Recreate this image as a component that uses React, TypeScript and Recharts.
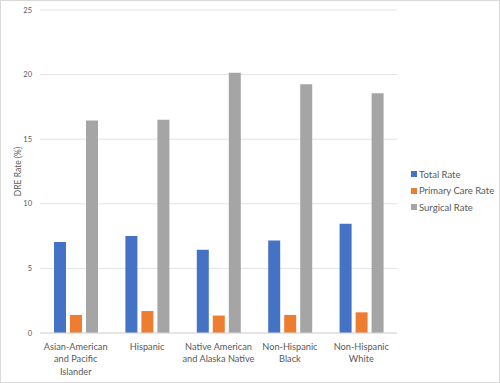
import { BarChart, Bar, XAxis, YAxis, CartesianGrid } from 'recharts';

// Racial/ethnic groups; "\n" marks where the axis label wraps.
const CATEGORIES = [
  'Asian-American\nand Pacific\nIslander',
  'Hispanic',
  'Native American\nand Alaska Native',
  'Non-Hispanic\nBlack',
  'Non-Hispanic\nWhite',
];
const TOTAL_RATE = [7.05, 7.5, 6.45, 7.15, 8.45];
const PRIMARY_CARE_RATE = [1.4, 1.7, 1.35, 1.4, 1.6];
const SURGICAL_RATE = [16.45, 16.5, 20.15, 19.25, 18.55];
const Y_TICKS = [0, 5, 10, 15, 20, 25];

const BLUE = '#4472C4';
const ORANGE = '#ED7D31';
const GRAY = '#A5A5A5';
const TEXT = '#595959';
const FONT = 'Lato, "Open Sans", sans-serif';

const SERIES = [
  { key: 'total', name: 'Total Rate', color: BLUE },
  { key: 'primary', name: 'Primary Care Rate', color: ORANGE },
  { key: 'surgical', name: 'Surgical Rate', color: GRAY },
];

const data = CATEGORIES.map((name, i) => ({
  name,
  total: TOTAL_RATE[i],
  primary: PRIMARY_CARE_RATE[i],
  surgical: SURGICAL_RATE[i],
}));

// Multi-line category label, centred under each group.
function CategoryTick({ x, y, payload }: any) {
  const lines = String(payload.value).split('\n');
  return (
    <text x={x} y={y} textAnchor="middle" fill={TEXT} fontSize={9.2} fontFamily={FONT}>
      {lines.map((l, i) => (
        <tspan key={i} x={x} dy={i === 0 ? 8.5 : 12.6}>
          {l}
        </tspan>
      ))}
    </text>
  );
}

function AxisTitle({ viewBox }: any) {
  const cy = viewBox.y + viewBox.height / 2;
  return (
    <text
      x={18}
      y={cy}
      transform={`rotate(-90 18 ${cy})`}
      textAnchor="middle"
      dominantBaseline="central"
      fill={TEXT}
      fontSize={8.5}
      fontFamily={FONT}
    >
      DRE Rate (%)
    </text>
  );
}

export default function App() {
  return (
    <div
      style={{
        position: 'absolute',
        left: 0,
        top: 0,
        width: 500,
        height: 383,
        boxSizing: 'border-box',
        border: '1px solid #d9d9d9',
        background: '#fff',
      }}
    >
      <div style={{ position: 'absolute', left: -1, top: -1 }}>
        <BarChart
          width={500}
          height={383}
          data={data}
          margin={{ top: 10, right: 103, bottom: 0, left: 0 }}
          barGap={4}
        >
          <CartesianGrid vertical={false} stroke="#e3e3e3" />
          <XAxis
            dataKey="name"
            height={50}
            tick={<CategoryTick />}
            tickLine={false}
            axisLine={{ stroke: '#d9d9d9' }}
            interval={0}
          />
          <YAxis
            width={40}
            domain={[0, 25]}
            ticks={Y_TICKS}
            tickLine={false}
            axisLine={false}
            tick={{ fill: TEXT, fontSize: 7.5, fontFamily: FONT }}
            label={<AxisTitle />}
          />
          {SERIES.map((s) => (
            <Bar key={s.key} dataKey={s.key} name={s.name} fill={s.color} barSize={12} isAnimationActive={false} />
          ))}
        </BarChart>
      </div>
      <div
        style={{
          position: 'absolute',
          left: 410,
          top: 165,
          fontFamily: FONT,
          fontSize: 9.5,
          color: TEXT,
          whiteSpace: 'nowrap',
        }}
      >
        {SERIES.map((s) => (
          <div key={s.key} style={{ display: 'flex', alignItems: 'center', height: 16.6 }}>
            <span style={{ width: 6, height: 6, background: s.color, marginRight: 2 }} />
            {s.name}
          </div>
        ))}
      </div>
    </div>
  );
}
